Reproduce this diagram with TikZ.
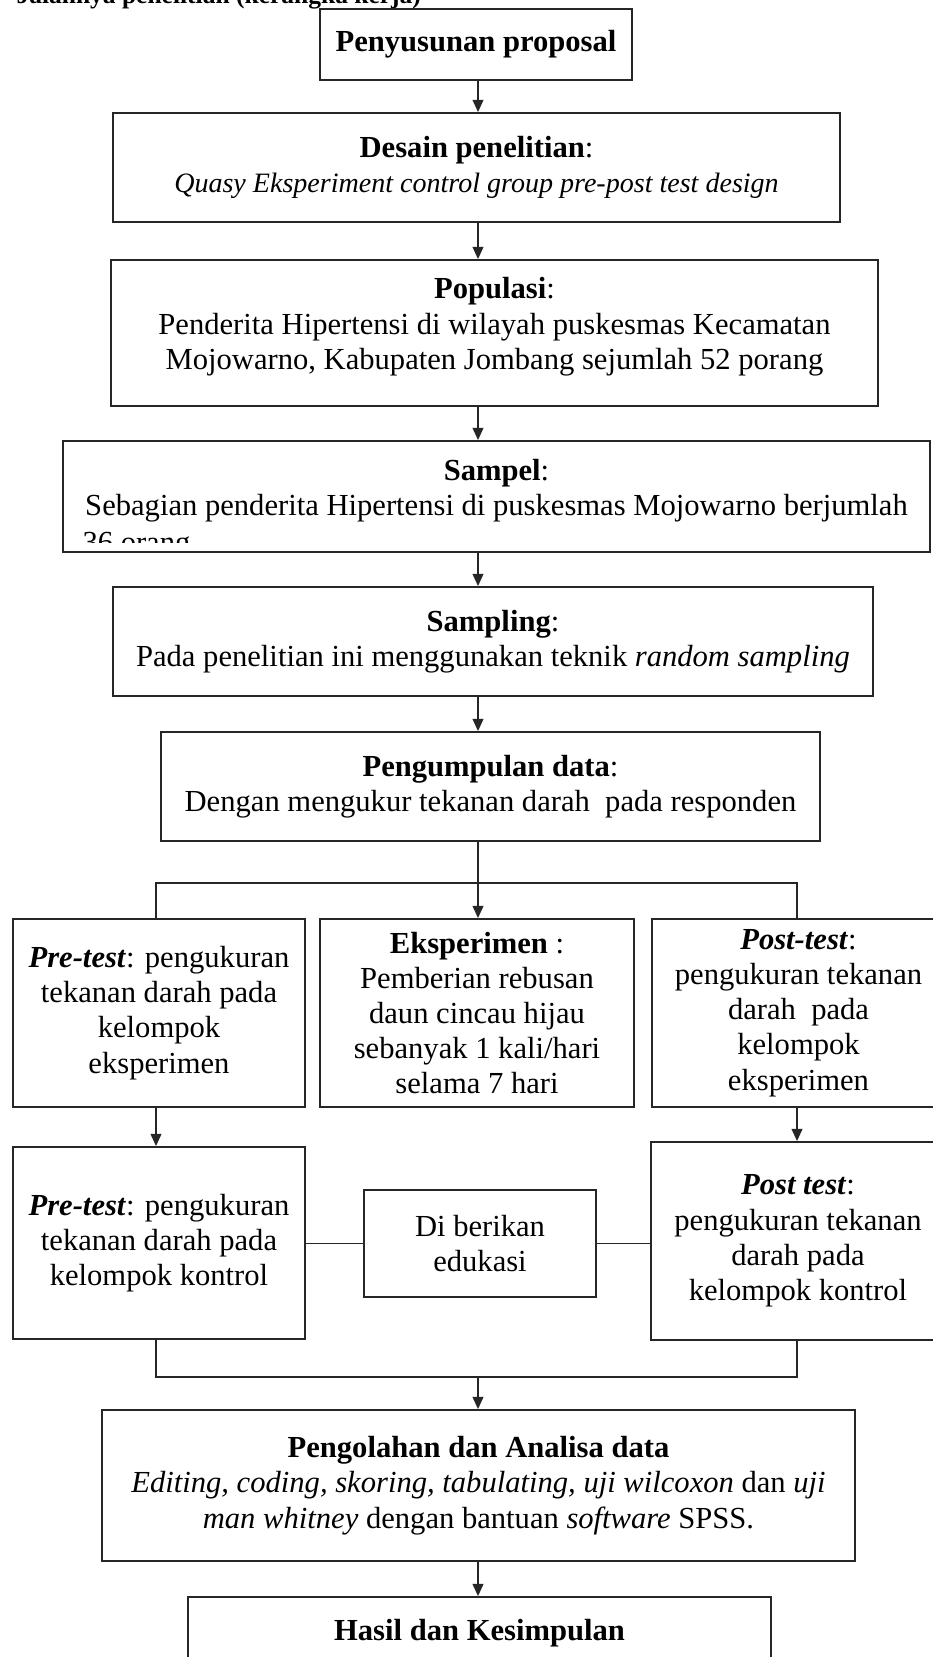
\documentclass[tikz,border=0pt]{standalone}
\usepackage{fontspec}
\setmainfont{Liberation Serif}
\usetikzlibrary{arrows.meta}
\newcommand{\px}{0.3922pt}

\begin{document}
\begin{tikzpicture}[x=\px, y=-\px,
    huruf/.style={font=\fontsize{12pt}{13.8pt}\selectfont},
    kotak/.style={huruf, draw=black!85, line width=0.7pt, inner sep=0pt, align=center},
    garis/.style={draw=black!85, line width=0.7pt},
    panah/.style={garis, -{Triangle[width=4.2pt,length=4.8pt]}}]
  \useasboundingbox (0,0) rectangle (933,1657);
  \clip (0,0) rectangle (933,1657);
  \fill[white] (0,0) rectangle (933,1657);

  % judul, terpotong di tepi atas
  \node[huruf, anchor=base west, inner sep=0pt, font=\bfseries] (judul) at (16,4) {Jalannya penelitian (kerangka kerja)};

  \coordinate (poros) at (478,0);

  \node[kotak, minimum width=312*\px, minimum height=71*\px] (proposal) at (476,44.5)
    {\textbf{Penyusunan proposal}};
  \node[kotak, minimum width=727*\px, minimum height=109*\px] (desain) at (476.5,167.5)
    {\textbf{Desain penelitian}:\\ {\fontsize{11pt}{13.8pt}\selectfont\itshape Quasy Eksperiment control group pre-post test design}};
  \node[kotak, minimum width=767*\px, minimum height=146*\px, text depth=7.4pt] (populasi) at (494.5,333)
    {\textbf{Populasi}:\\ Penderita Hipertensi di wilayah puskesmas Kecamatan\\ Mojowarno, Kabupaten Jombang sejumlah 52 porang};
  \node[kotak, minimum width=867*\px, minimum height=111*\px, text depth=7pt] (sampel) at (496.5,496.5)
    {\textbf{Sampel}:\\ Sebagian penderita Hipertensi di puskesmas Mojowarno berjumlah};
  \begin{scope}
    \clip (60,441) rectangle (935,542);
    \node[huruf, anchor=base west, inner sep=0pt] (sisa) at (82,552) {36 orang};
  \end{scope}
  \node[kotak, minimum width=760*\px, minimum height=109*\px] (sampling) at (493,641.5)
    {\textbf{Sampling}:\\ Pada penelitian ini menggunakan teknik \textit{random sampling}};
  \node[kotak, minimum width=659*\px, minimum height=109*\px] (kumpul) at (490.5,786.5)
    {\textbf{Pengumpulan data}:\\ Dengan mengukur tekanan darah \ pada responden};

  \node[kotak, minimum width=292*\px, minimum height=188*\px] (pretes) at (159,1013)
    {\textbf{\textit{Pre-test}}: pengukuran\\ tekanan darah pada\\ kelompok\\ eksperimen};
  \node[kotak, minimum width=314*\px, minimum height=188*\px] (eksperimen) at (477,1013)
    {\textbf{Eksperimen} :\\ Pemberian rebusan\\ daun cincau hijau\\ sebanyak 1 kali/hari\\ selama 7 hari};
  \node[kotak, minimum width=293*\px, minimum height=188*\px] (postes) at (798.5,1013)
    {\textbf{\textit{Post-test}}:\\ pengukuran tekanan\\ darah \ pada\\ kelompok\\ eksperimen};

  \node[kotak, minimum width=292*\px, minimum height=192*\px] (prekontrol) at (159,1243)
    {\textbf{\textit{Pre-test}}: pengukuran\\ tekanan darah pada\\ kelompok kontrol};
  \node[kotak, minimum width=232*\px, minimum height=107*\px] (edukasi) at (480,1243.5)
    {Di berikan\\ edukasi};
  \node[kotak, minimum width=294*\px, minimum height=198*\px] (postkontrol) at (798,1241)
    {\textbf{\textit{Post test}}:\\ pengukuran tekanan\\ darah pada\\ kelompok kontrol};

  \node[kotak, minimum width=753*\px, minimum height=151*\px] (analisa) at (478.5,1485.5)
    {\textbf{Pengolahan dan Analisa data}\\ \textit{Editing, coding, skoring, tabulating, uji wilcoxon} dan \textit{uji}\\ \textit{man whitney} dengan bantuan \textit{software} SPSS.};
  \node[kotak, minimum width=583*\px, minimum height=72*\px] (hasil) at (479.5,1633)
    {\textbf{Hasil dan Kesimpulan}};

  \coordinate (kiri) at (156,883);
  \coordinate (kanan) at (797,883);
  \coordinate (bawahkiri) at (156,1377);
  \coordinate (bawahkanan) at (797,1377);

  \draw[panah] (poros |- proposal.south) -- (poros |- desain.north);
  \draw[panah] (poros |- desain.south) -- (poros |- populasi.north);
  \draw[panah] (poros |- populasi.south) -- (poros |- sampel.north);
  \draw[panah] (poros |- sampel.south) -- (poros |- sampling.north);
  \draw[panah] (poros |- sampling.south) -- (poros |- kumpul.north);
  \draw[panah] (poros |- kumpul.south) -- (poros |- eksperimen.north);
  \draw[garis] (pretes.north -| kiri) -- (kiri) -- (kanan) -- (postes.north -| kanan);

  \draw[panah] (pretes.south -| kiri) -- (prekontrol.north -| kiri);
  \draw[panah] (postes.south -| kanan) -- (postkontrol.north -| kanan);
  \draw[garis] (prekontrol.east |- edukasi) -- (edukasi.west);
  \draw[garis] (edukasi.east) -- (postkontrol.west |- edukasi);

  \draw[garis] (prekontrol.south -| bawahkiri) -- (bawahkiri) -- (bawahkanan) -- (postkontrol.south -| bawahkanan);
  \draw[panah] (poros |- bawahkiri) -- (poros |- analisa.north);
  \draw[panah] (poros |- analisa.south) -- (poros |- hasil.north);
\end{tikzpicture}
\end{document}
